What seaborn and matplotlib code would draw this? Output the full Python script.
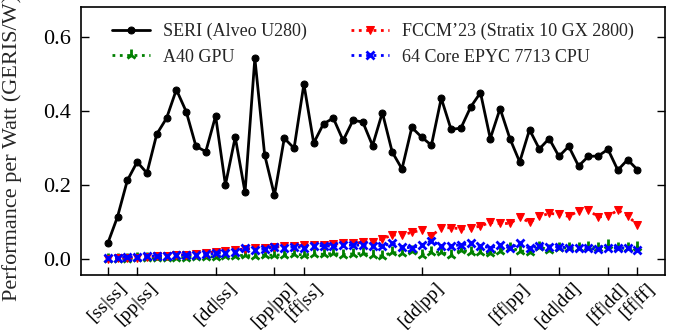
import numpy as np
import pandas as pd
import seaborn as sns
from matplotlib import pyplot as plt

# one value per configuration, 55 configurations in total
seri = [0.042, 0.114, 0.212, 0.262, 0.232, 0.337, 0.380, 0.457, 0.398, 0.304,
        0.290, 0.386, 0.200, 0.329, 0.180, 0.542, 0.281, 0.172, 0.326, 0.299,
        0.472, 0.313, 0.365, 0.380, 0.320, 0.374, 0.370, 0.306, 0.395, 0.289,
        0.243, 0.355, 0.329, 0.307, 0.434, 0.350, 0.353, 0.410, 0.449, 0.325,
        0.406, 0.325, 0.262, 0.349, 0.297, 0.325, 0.277, 0.304, 0.251, 0.277,
        0.278, 0.296, 0.240, 0.268, 0.241]

fccm = [0.001, 0.002, 0.003, 0.004, 0.006, 0.008, 0.009, 0.011, 0.012, 0.014,
        0.017, 0.019, 0.021, 0.025, 0.027, 0.029, 0.031, 0.033, 0.034, 0.035,
        0.037, 0.038, 0.039, 0.040, 0.042, 0.043, 0.045, 0.047, 0.054, 0.065,
        0.065, 0.072, 0.078, 0.063, 0.083, 0.085, 0.081, 0.083, 0.089, 0.099,
        0.096, 0.096, 0.113, 0.099, 0.115, 0.123, 0.121, 0.115, 0.130, 0.132,
        0.114, 0.115, 0.132, 0.117, 0.092]

a40 = [0.000, 0.001, 0.001, 0.002, 0.002, 0.003, 0.003, 0.004, 0.004, 0.005,
       0.006, 0.006, 0.007, 0.009, 0.010, 0.008, 0.011, 0.010, 0.012, 0.013,
       0.011, 0.014, 0.013, 0.015, 0.012, 0.014, 0.015, 0.011, 0.008, 0.018,
       0.015, 0.022, 0.012, 0.020, 0.018, 0.011, 0.024, 0.020, 0.018, 0.015,
       0.022, 0.031, 0.022, 0.020, 0.033, 0.024, 0.031, 0.029, 0.029, 0.033,
       0.031, 0.038, 0.031, 0.029, 0.033]

epyc = [0.004, 0.004, 0.006, 0.006, 0.008, 0.008, 0.009, 0.010, 0.011, 0.012,
        0.013, 0.015, 0.017, 0.020, 0.029, 0.025, 0.027, 0.033, 0.030, 0.033,
        0.031, 0.036, 0.036, 0.034, 0.038, 0.037, 0.038, 0.036, 0.036, 0.042,
        0.033, 0.030, 0.038, 0.049, 0.036, 0.036, 0.038, 0.042, 0.036, 0.030,
        0.038, 0.030, 0.042, 0.029, 0.036, 0.033, 0.033, 0.030, 0.030, 0.029,
        0.026, 0.029, 0.030, 0.029, 0.024]

tick_pos = [0, 3, 11, 17, 20, 32, 41, 46, 51, 54]
tick_labels = ['[ss|ss]', '[pp|ss]', '[dd|ss]', '[pp|pp]', '[ff|ss]',
               '[dd|pp]', '[ff|pp]', '[dd|dd]', '[ff|dd]', '[ff|ff]']

sns.set_style('ticks')
plt.rcParams['font.family'] = ['Liberation Serif', 'DejaVu Serif']
plt.rcParams['font.size'] = 14

df = pd.DataFrame({'idx': np.arange(len(seri)), 'seri': seri,
                   'fccm': fccm, 'a40': a40, 'epyc': epyc})

fig = plt.figure(figsize=(6.89, 3.30), dpi=100)
ax = fig.add_axes([0.1176, 0.1667, 0.8474, 0.8121])

sns.lineplot(data=df, x='idx', y='seri', ax=ax, color='black', lw=2,
             marker='o', ms=5, mec='black', label='SERI (Alveo U280)')
sns.lineplot(data=df, x='idx', y='a40', ax=ax, color='green', lw=2, ls=':',
             marker='2', ms=8, mew=2, mec='green', label='A40 GPU')
sns.lineplot(data=df, x='idx', y='fccm', ax=ax, color='red', lw=2, ls=':',
             marker='v', ms=6, mec='red', label='FCCM\u201923 (Stratix 10 GX 2800)')
sns.lineplot(data=df, x='idx', y='epyc', ax=ax, color='blue', lw=2, ls=':',
             marker='x', ms=6, mew=2, mec='blue', label='64 Core EPYC 7713 CPU')

ax.set_xlim(-2.72, 56.8)
ax.set_ylim(-0.043, 0.68)
ax.set_yticks([0.0, 0.2, 0.4, 0.6])
ax.set_yticklabels(['0.0', '0.2', '0.4', '0.6'])
ax.set_xticks(tick_pos)
ax.set_xticklabels(tick_labels, rotation=45, ha='center')
ax.tick_params(axis='both', direction='in', length=6, width=1, colors='black')
ax.tick_params(axis='x', pad=3, labelsize=14)
ax.tick_params(axis='y', right=True, labelsize=16, pad=7)
for s in ax.spines.values():
    s.set_visible(True)
    s.set_color('black')
    s.set_linewidth(1.2)

ax.set_xlabel('')
ax.set_ylabel('Performance per Watt (GERIS/W)', fontsize=16)
ax.yaxis.set_label_coords(-0.101, 0.474)

ax.legend(loc='upper left', bbox_to_anchor=(0.053, 0.94), ncol=2,
          frameon=False, borderaxespad=0, borderpad=0, handlelength=2.1,
          handletextpad=0.72, columnspacing=2.45, labelspacing=0.45, fontsize=13)

fig.savefig('out.png', dpi=100)
